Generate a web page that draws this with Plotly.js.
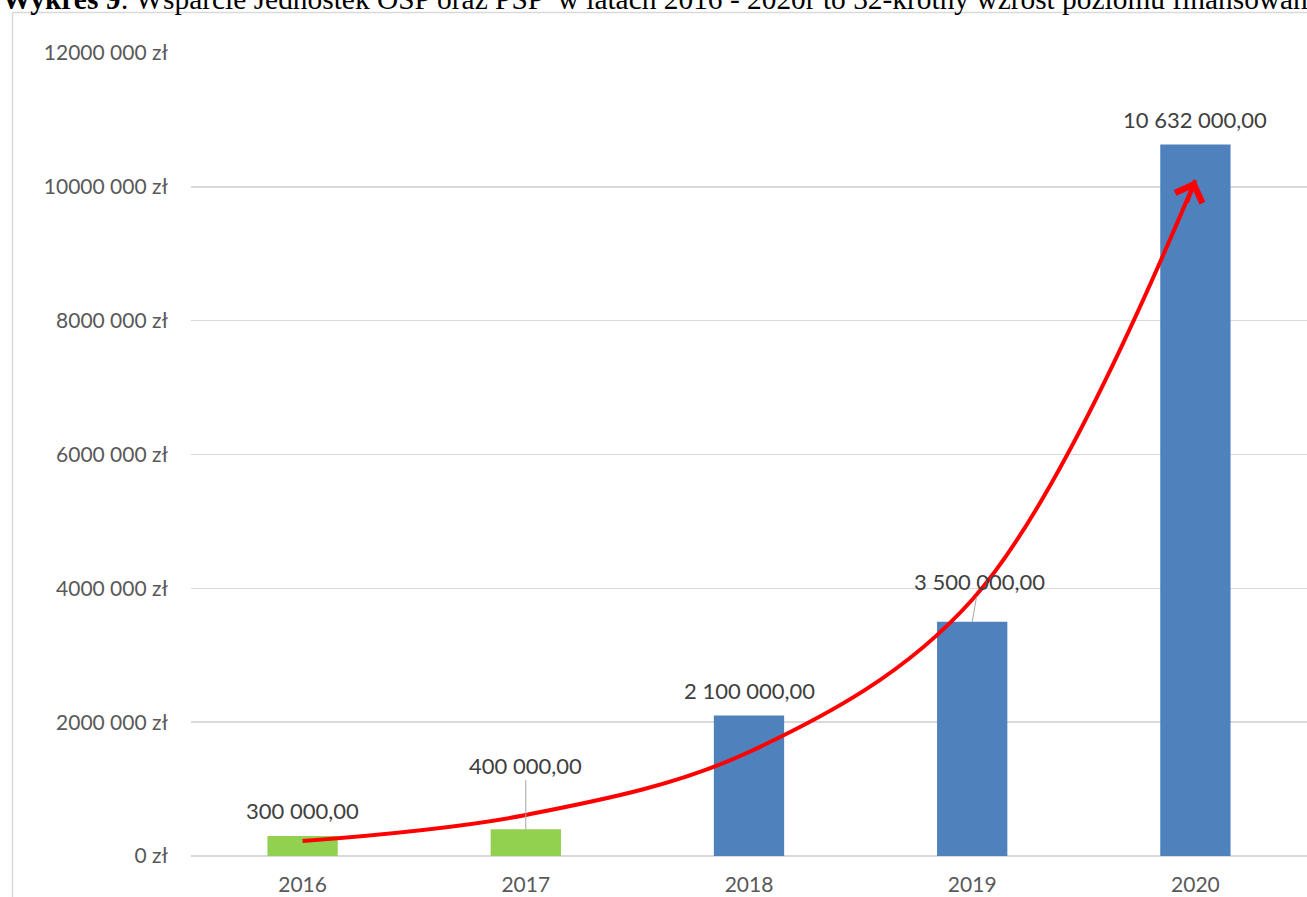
<!DOCTYPE html>
<html>
<head>
<meta charset="utf-8">
<script src="https://cdn.plot.ly/plotly-3.0.1.min.js"></script>
<style>
html,body{margin:0;padding:0;background:#fff;}
#chart{width:1307px;height:897px;}
</style>
</head>
<body>
<div id="chart"></div>
<script>
// ---- data ----
const years = ['2016', '2017', '2018', '2019', '2020'];
const funding = [300000, 400000, 2100000, 3500000, 10632000];
const barColors = ['#92d050', '#92d050', '#4f81bd', '#4f81bd', '#4f81bd'];
const trendValues = [224000, 613000, 1554000, 3830000, 10100000]; // red arrow curve
const yTickVals = [0, 2000000, 4000000, 6000000, 8000000, 10000000, 12000000];
const yTickText = ['0 zł', '2000 000 zł', '4000 000 zł', '6000 000 zł', '8000 000 zł', '10000 000 zł', '12000 000 zł'];
const titleBold = 'Wykres 9';
const titleRest = ': Wsparcie Jednostek OSP oraz PSP  w latach 2016 - 2020r to 32-krotny wzrost poziomu finansowania';

// ---- geometry ----
const W = 1307, H = 897;
const M = {l: 191, r: 0, t: 53, b: 41};
const pw = W - M.l - M.r, ph = H - M.t - M.b;
const px2x = px => (px - M.l) / pw;
const py2y = py => (H - M.b - py) / ph;

function fmt(v) {
  const s = Math.round(v).toString().replace(/\B(?=(\d{3})+(?!\d))/g, ' ');
  return s + ',00';
}

const labelFont = {family: 'Lato, "Open Sans", sans-serif', size: 22, color: '#404040'};
const tickFont = {family: 'Lato, "Open Sans", sans-serif', size: 21, color: '#595959'};

const xIdx = years.map((_, i) => i);

const traces = [
  {
    type: 'bar', x: xIdx, y: funding,
    marker: {color: barColors},
    width: 0.315,
    hoverinfo: 'skip', showlegend: false
  },
  {
    type: 'scatter', mode: 'lines', x: xIdx, y: trendValues,
    line: {color: '#ff0000', width: 4, shape: 'spline', smoothing: 1},
    hoverinfo: 'skip', showlegend: false
  }
];

// leader-line offsets for labels (pixels), others plain above bar
const leader = {1: {ax: 0, ay: -64}, 3: {ax: 7, ay: -40}};
const annotations = [];
funding.forEach((v, i) => {
  if (leader[i]) {
    annotations.push({
      x: i, y: v, xref: 'x', yref: 'y', text: fmt(v), font: labelFont,
      showarrow: true, arrowhead: 0, arrowwidth: 1, arrowcolor: '#a6a6a6',
      ax: leader[i].ax, ay: leader[i].ay, standoff: 0
    });
  } else {
    annotations.push({
      x: i, y: v, xref: 'x', yref: 'y', text: fmt(v), font: labelFont,
      showarrow: false, yanchor: 'middle', yshift: 25
    });
  }
});
// arrowhead at the end of the red curve
annotations.push({
  x: trendValues.length - 1, y: trendValues[trendValues.length - 1], xref: 'x', yref: 'y',
  text: '', showarrow: true, arrowhead: 4, arrowsize: 1.4, arrowwidth: 4, arrowcolor: '#ff0000',
  ax: -9, ay: 24, standoff: 0
});
// clipped document caption at top
annotations.push({
  xref: 'paper', yref: 'paper', x: px2x(0), y: py2y(17), xanchor: 'left', yanchor: 'bottom',
  text: '<b>' + titleBold + '</b>' + titleRest, showarrow: false,
  font: {family: '"Liberation Serif", "Times New Roman", serif', size: 29.4, color: '#000'}
});

const frameColor = '#d9d9d9';
const shapes = [
  {type: 'line', xref: 'paper', yref: 'paper', x0: px2x(12.5), x1: px2x(12.5), y0: py2y(12.5), y1: py2y(900),
   line: {color: frameColor, width: 1.5}, layer: 'below'},
  {type: 'line', xref: 'paper', yref: 'paper', x0: px2x(12.5), x1: px2x(1310), y0: py2y(12.5), y1: py2y(12.5),
   line: {color: frameColor, width: 1.5}, layer: 'below'}
];

const layout = {
  width: W, height: H,
  margin: M,
  paper_bgcolor: '#ffffff', plot_bgcolor: '#ffffff',
  showlegend: false,
  xaxis: {
    type: 'linear', range: [-0.5, 4.5],
    tickvals: xIdx, ticktext: years,
    showgrid: false, zeroline: false, showline: false, ticks: '',
    tickfont: tickFont, ticklabelstandoff: 14, fixedrange: true
  },
  yaxis: {
    range: [0, 12000000],
    tickvals: yTickVals, ticktext: yTickText,
    showgrid: true, gridcolor: '#d9d9d9', gridwidth: 1.5,
    zeroline: true, zerolinecolor: '#d9d9d9', zerolinewidth: 1.5,
    showline: false, ticks: '',
    tickfont: tickFont, ticklabelstandoff: 22, fixedrange: true
  },
  annotations: annotations,
  shapes: shapes
};

Plotly.newPlot('chart', traces, layout, {displayModeBar: false, staticPlot: true});
</script>
</body>
</html>
